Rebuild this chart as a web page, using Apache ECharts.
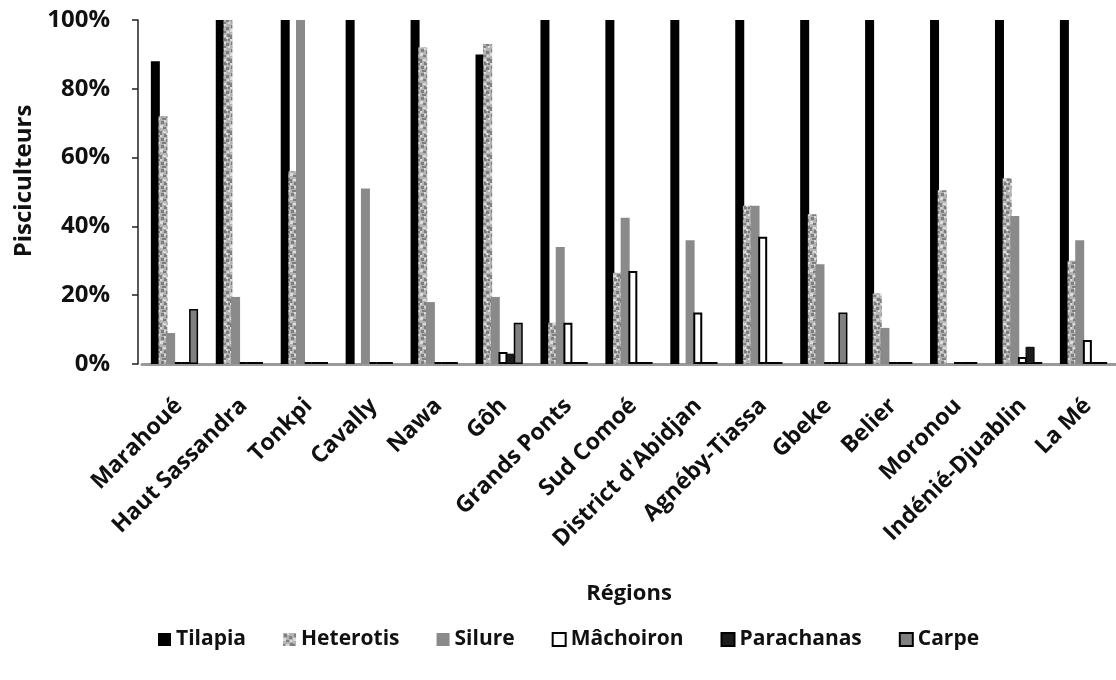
<!DOCTYPE html>
<html>
<head>
<meta charset="utf-8">
<script src="https://cdn.jsdelivr.net/npm/echarts@6/dist/echarts.min.js"></script>
<style>
  html, body { margin: 0; padding: 0; background: #ffffff; }
  #chart { width: 1116px; height: 680px; }
</style>
</head>
<body>
<div id="chart"></div>
<script>
// Régions
const categories = ['Marahoué', 'Haut Sassandra', 'Tonkpi', 'Cavally', 'Nawa', 'Gôh', 'Grands Ponts',
  'Sud Comoé', "District d'Abidjan", 'Agnéby-Tiassa', 'Gbeke', 'Belier', 'Moronou',
  'Indénié-Djuablin', 'La Mé'];

// Share of fish farmers (%) raising each species, per region
const tilapia    = [88, 100, 100, 100, 100, 90, 100, 100, 100, 100, 100, 100, 100, 100, 100];
const heterotis  = [72, 100, 56, 0, 92, 93, 12, 26.5, 0, 46, 43.5, 20.5, 50.5, 54, 30];
const silure     = [9, 19.5, 100, 51, 18, 19.5, 34, 42.5, 36, 46, 29, 10.5, 0, 43, 36];
const machoiron  = [0, 0, 0, 0, 0, 3.5, 12, 27, 15, 37, 0, 0, 0, 2, 7];
const parachanas = [0, 0, 0, 0, 0, 3, 0, 0, 0, 0, 0, 0, 0, 5, 0];
const carpe      = [16, 0, 0, 0, 0, 12, 0, 0, 0, 0, 15, 0, 0, 0, 0];

const seriesNames = ['Tilapia', 'Heterotis', 'Silure', 'Mâchoiron', 'Parachanas', 'Carpe'];
const yTicks = [0, 20, 40, 60, 80, 100];

// Mottled grey fill for Heterotis bars (fixed blotch layout)
function mottledPattern() {
  const c = document.createElement('canvas');
  c.width = 10; c.height = 24;
  const g = c.getContext('2d');
  g.fillStyle = '#b4b4b4';
  g.fillRect(0, 0, 10, 24);
  const dark = [[1,1,3,3],[6,3,3,3],[3,7,3,2],[0,11,2,4],[7,10,3,3],[4,14,3,3],[1,18,3,3],[6,19,3,3],[8,15,2,2],[2,22,4,2]];
  const light = [[4,0,2,2],[0,5,3,3],[7,7,2,2],[3,11,3,2],[0,15,2,2],[6,13,2,2],[4,18,2,2],[8,22,2,2]];
  g.fillStyle = '#7e7e7e';
  dark.forEach(r => g.fillRect(r[0], r[1], r[2], r[3]));
  g.fillStyle = '#dcdcdc';
  light.forEach(r => g.fillRect(r[0], r[1], r[2], r[3]));
  return c;
}

const FONT = 'Open Sans';
const TEXT = '#111111';
const seriesData = [tilapia, heterotis, silure, machoiron, parachanas, carpe];
const styles = [
  { color: '#000000' },
  { color: { image: mottledPattern(), repeat: 'repeat' } },
  { color: '#8a8a8a' },
  { color: '#ffffff', borderColor: '#000000', borderWidth: 2 },
  { color: '#1c1c1c', borderColor: '#000000', borderWidth: 1 },
  { color: '#808080', borderColor: '#000000', borderWidth: 1.5 }
];

const chart = echarts.init(document.getElementById('chart'), null, { renderer: 'canvas' });

chart.setOption({
  animation: false,
  backgroundColor: '#ffffff',
  grid: { left: 142, top: 20, width: 980, height: 344, containLabel: false },
  legend: {
    left: 153,
    top: 624,
    itemWidth: 13,
    itemHeight: 13,
    itemGap: 37,
    icon: 'rect',
    textStyle: { fontFamily: FONT, fontSize: 21, fontWeight: 'bold', color: TEXT },
    data: seriesNames
  },
  xAxis: {
    type: 'category',
    data: categories,
    name: 'Régions',
    nameLocation: 'middle',
    nameGap: 219,
    nameTextStyle: { fontFamily: FONT, fontSize: 22, fontWeight: 'bold', color: TEXT },
    axisLine: { show: true, lineStyle: { color: '#9a9a9a', width: 3 } },
    axisTick: { show: false },
    axisLabel: {
      rotate: 45,
      interval: 0,
      margin: 34,
      fontFamily: FONT,
      fontSize: 23,
      fontWeight: 'bold',
      color: TEXT,
      verticalAlign: 'top',
      lineHeight: 12
    }
  },
  yAxis: {
    type: 'value',
    min: 0,
    max: 100,
    interval: 20,
    offset: 4,
    name: 'Pisciculteurs',
    nameLocation: 'middle',
    nameGap: 100,
    nameTextStyle: { fontFamily: FONT, fontSize: 24, fontWeight: 'bold', color: TEXT, padding: [0, 0, 0, 22] },
    axisLine: { show: true, lineStyle: { color: '#222', width: 1.5 } },
    axisTick: { show: true, inside: false, length: 6, lineStyle: { color: '#222', width: 1.5 } },
    splitLine: { show: false },
    axisLabel: {
      margin: 28,
      fontFamily: FONT,
      fontSize: 24,
      fontWeight: 'bold',
      color: TEXT,
      formatter: v => (yTicks.indexOf(v) >= 0 ? v + '%' : '')
    }
  },
  series: seriesNames.map((name, i) => ({
    name: name,
    type: 'bar',
    data: seriesData[i],
    barWidth: 9,
    barGap: '-15%',
    barCategoryGap: '30%',
    barMinHeight: i >= 3 ? 2 : 0,
    itemStyle: styles[i],
    emphasis: { disabled: true }
  }))
});
</script>
</body>
</html>
